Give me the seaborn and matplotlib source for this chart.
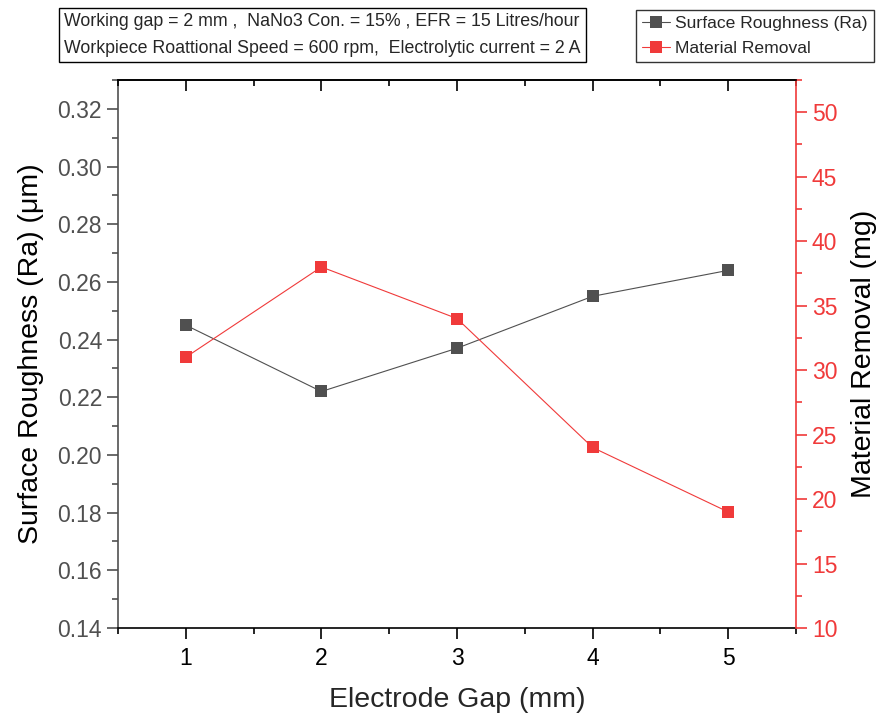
import matplotlib
matplotlib.use("Agg")
import matplotlib.pyplot as plt
import seaborn as sns
import pandas as pd
from matplotlib.ticker import MultipleLocator, FormatStrFormatter
from matplotlib.lines import Line2D

gap = [1, 2, 3, 4, 5]
roughness = [0.245, 0.222, 0.237, 0.255, 0.264]
removal = [31, 38, 34, 24, 19]

sns.set_style("ticks")
plt.rcParams['font.family'] = ['Liberation Sans', 'DejaVu Sans']

GRAY = '#505050'
RED = '#F03A3A'

df = pd.DataFrame({'gap': gap, 'ra': roughness, 'mr': removal})

fig = plt.figure(figsize=(8.87, 7.17), dpi=100)
ax = fig.add_axes([118/887, 1-628/717, (796-118)/887, (628-80)/717])
ax2 = ax.twinx()

sns.lineplot(data=df, x='gap', y='ra', ax=ax, color=GRAY, marker='s', markersize=9,
             markeredgewidth=0, linewidth=0.8)
sns.lineplot(data=df, x='gap', y='mr', ax=ax2, color=RED, marker='s', markersize=9,
             markeredgewidth=0, linewidth=0.8)

ax.set_xlim(0.5, 5.5)
ax.set_ylim(0.14, 0.33)
ax2.set_ylim(10, 52.5)

ax.xaxis.set_major_locator(MultipleLocator(1))
ax.xaxis.set_minor_locator(MultipleLocator(0.5))
ax.yaxis.set_major_locator(MultipleLocator(0.02))
ax.yaxis.set_minor_locator(MultipleLocator(0.01))
ax2.yaxis.set_major_locator(MultipleLocator(5))
ax2.yaxis.set_minor_locator(MultipleLocator(2.5))
ax.yaxis.set_major_formatter(FormatStrFormatter('%.2f'))

LS = 20.5
ax.set_xlabel('Electrode Gap (mm)', fontsize=LS, labelpad=12)
ax.set_ylabel('Surface Roughness (Ra) (μm)', fontsize=LS, labelpad=10)
ax2.set_ylabel('Material Removal (mg)', fontsize=LS, labelpad=10)

for a in (ax, ax2):
    for s in a.spines.values():
        s.set_linewidth(1.2)
ax.spines['left'].set_color(GRAY)
ax.spines['bottom'].set_color('black')
ax.spines['top'].set_color('black')
ax2.spines['top'].set_color('black')
ax2.spines['right'].set_color(RED)
ax2.spines['left'].set_visible(False)
ax2.spines['bottom'].set_visible(False)
ax.spines['right'].set_visible(False)

TS = 16.5
ax.tick_params(axis='x', which='both', direction='out', bottom=True, top=False,
               labelsize=TS, colors='black', width=1.2, pad=6)
ax.tick_params(axis='x', which='major', length=8)
ax.tick_params(axis='x', which='minor', length=4)
ax.tick_params(axis='y', which='both', direction='out', labelsize=TS, colors=GRAY, width=1.2)
ax.tick_params(axis='y', which='major', length=8)
ax.tick_params(axis='y', which='minor', length=4)
ax2.tick_params(axis='y', which='both', direction='out', labelsize=TS, colors=RED, width=1.2)
ax2.tick_params(axis='y', which='major', length=8)
ax2.tick_params(axis='y', which='minor', length=4)
ax.yaxis.label.set_color('black')
ax2.yaxis.label.set_color('black')

# top ticks pointing inward via the twin axes' x axis
ax2.xaxis.set_visible(True)
ax2.xaxis.set_tick_params(which='both', top=True, bottom=False, labeltop=False,
                          labelbottom=False, direction='in', color='black', width=1.2)
ax2.xaxis.set_tick_params(which='major', length=8)
ax2.xaxis.set_tick_params(which='minor', length=4)
ax2.set_xlabel('')

fig.text(64/887, 1-13/717,
         'Working gap = 2 mm ,  NaNo3 Con. = 15% , EFR = 15 Litres/hour\n'
         'Workpiece Roattional Speed = 600 rpm,  Electrolytic current = 2 A',
         fontsize=12.8, va='top', ha='left', linespacing=1.75,
         bbox=dict(boxstyle='square,pad=0.3', facecolor='white', edgecolor='black', linewidth=1))

handles = [Line2D([], [], color=GRAY, marker='s', markersize=8, markeredgewidth=0, linewidth=0.8),
           Line2D([], [], color=RED, marker='s', markersize=8, markeredgewidth=0, linewidth=0.8)]
leg = fig.legend(handles, ['Surface Roughness (Ra)', 'Material Removal'],
                 loc='upper left', bbox_to_anchor=(636/887, 1-10/717), fontsize=12.6,
                 frameon=True, fancybox=False, edgecolor='black', handlelength=1.6,
                 handletextpad=0.3, borderpad=0.35, labelspacing=0.55, borderaxespad=0)
leg.get_frame().set_linewidth(1)

fig.savefig('out.png', dpi=100)
